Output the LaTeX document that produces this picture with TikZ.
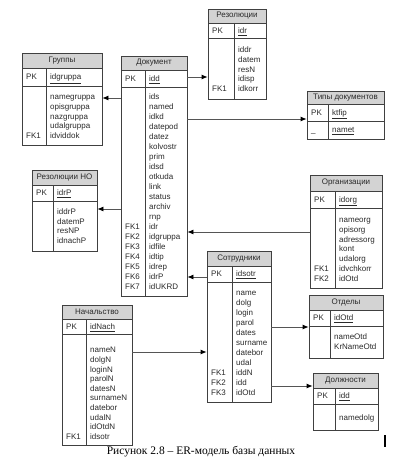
\documentclass[tikz,border=0pt]{standalone}
\usepackage{fontspec}
\setmainfont{Liberation Sans}
\newfontfamily\capfont{Liberation Serif}
\usetikzlibrary{arrows.meta,fit}
\definecolor{hdrgray}{HTML}{D3D3D3}
\definecolor{linegray}{HTML}{404040}
\definecolor{txtgray}{HTML}{2A2A2A}
\definecolor{conngray}{HTML}{555555}
\tikzset{
  tblbox/.style={draw=linegray, line width=0.8pt, inner sep=0pt},
  tblline/.style={draw=linegray, line width=0.8pt},
  hdrfill/.style={fill=hdrgray},
  hdrtext/.style={font=\fontsize{8}{9}\selectfont, text=txtgray, inner sep=0pt},
  fldtext/.style={font=\fontsize{8}{9}\selectfont, text=txtgray, anchor=base west, inner sep=0pt},
  conn/.style={draw=conngray, line width=0.8pt, -{Latex[length=6pt,width=5pt,color=black]}},
}
% name, x1, y1, x2, header bottom, pk bottom, bottom, divider x
\newcommand{\ertbl}[8]{%
  \fill[hdrfill] (#2,#3) rectangle (#4,#5);
  \coordinate (#1-nw) at (#2,#3);
  \coordinate (#1-se) at (#4,#7);
  \node[tblbox, fit=(#1-nw)(#1-se)] (#1) {};
  \draw[tblline] (#2,#5) -- (#4,#5) (#2,#6) -- (#4,#6) (#8,#5) -- (#8,#7);
}
\newcommand{\ertxt}[3]{\node[fldtext] at (#1,{#2+2.8}) {#3};}
\newcommand{\erfields}[4]{%
  \foreach \t [count=\i from 0] in {#4} {\node[fldtext] at (#1,{#2+\i*#3+2.8}) {\t};}
}
\begin{document}
\begin{tikzpicture}[x=1pt,y=-1pt]
\path[use as bounding box, fill=white] (0,0) rectangle (409,460);

% Резолюции
\ertbl{res}{208}{9}{266}{23}{38}{99}{234}
\node[hdrtext] at (237,16) {Резолюции};
\ertxt{212}{30.5}{PK}
\ertxt{238}{30.5}{\underline{idr}}
\erfields{238}{50}{9.6}{iddr,datem,resN,idisp,idkorr}
\ertxt{212}{88.4}{FK1}

% Группы
\ertbl{grp}{22}{53}{102}{68}{86}{145}{46}
\node[hdrtext] at (62,60.5) {Группы};
\ertxt{26}{77}{PK}
\ertxt{50}{77}{\underline{idgruppa}}
\erfields{50}{97}{9.6}{namegruppa,opisgruppa,nazgruppa,udalgruppa,idviddok}
\ertxt{26}{135.4}{FK1}

% Документ
\ertbl{doc}{121}{56}{187}{70}{87}{296}{145}
\node[hdrtext] at (154,63) {Документ};
\ertxt{125}{78.5}{PK}
\ertxt{149}{78.5}{\underline{idd}}
\erfields{149}{97}{10}{ids,named,idkd,datepod,datez,kolvostr,prim,idsd,otkuda,link,status,archiv,rnp,idr,idgruppa,idfile,idtip,idrep,idrP,idUKRD}
\erfields{125}{227}{10}{FK1,FK2,FK3,FK4,FK5,FK6,FK7}

% Типы документов
\ertbl{tip}{307}{91}{384}{104}{121}{139}{328}
\node[hdrtext] at (345.5,97.5) {Типы документов};
\ertxt{311}{112.5}{PK}
\ertxt{332}{112.5}{\underline{ktfip}}
\ertxt{311}{130}{\_}
\ertxt{332}{130}{\underline{namet}}

% Резолюции НО
\ertbl{rno}{32}{170}{97}{185}{201}{251}{53}
\node[hdrtext] at (64.5,177.5) {Резолюции НО};
\ertxt{36}{193}{PK}
\ertxt{57}{193}{\underline{idrP}}
\erfields{57}{212}{9.5}{iddrP,datemP,resNP,idnachP}

% Организации
\ertbl{org}{310}{175}{382}{191}{208}{288}{335}
\node[hdrtext] at (346,183) {Организации};
\ertxt{314}{199.5}{PK}
\ertxt{339}{199.5}{\underline{idorg}}
\erfields{339}{220}{9.7}{nameorg,opisorg,adressorg,kont,udalorg,idvchkorr,idOtd}
\ertxt{314}{268.5}{FK1}
\ertxt{314}{278.2}{FK2}

% Сотрудники
\ertbl{sot}{207}{251}{271}{266}{282}{402}{232}
\node[hdrtext] at (239,258.5) {Сотрудники};
\ertxt{211}{274}{PK}
\ertxt{236}{274}{\underline{idsotr}}
\erfields{236}{293}{10}{name,dolg,login,parol,dates,surname,datebor,udal,iddN,idd,idOtd}
\erfields{211}{373}{10}{FK1,FK2,FK3}

% Начальство
\ertbl{nach}{62}{305}{132}{319}{334}{445}{86}
\node[hdrtext] at (97,312) {Начальство};
\ertxt{66}{326.5}{PK}
\ertxt{90}{326.5}{\underline{idNach}}
\erfields{90}{350}{9.6}{nameN,dolgN,loginN,parolN,datesN,surnameN,datebor,udalN,idOtdN,idsotr}
\ertxt{66}{436.4}{FK1}

% Отделы
\ertbl{otd}{309}{295}{383}{310}{326}{358}{330}
\node[hdrtext] at (346,302.5) {Отделы};
\ertxt{313}{318}{PK}
\ertxt{334}{318}{\underline{idOtd}}
\erfields{334}{337}{10}{nameOtd,KrNameOtd}

% Должности
\ertbl{dol}{313}{373}{378}{388}{404}{430}{335}
\node[hdrtext] at (345.5,380.5) {Должности};
\ertxt{317}{396}{PK}
\ertxt{339}{396}{\underline{idd}}
\ertxt{339}{418}{namedolg}

% connectors
\draw[conn] (doc.east |- 0,77) -- (res.west |- 0,77);
\draw[conn] (doc.east |- 0,119) -- (tip.west |- 0,119);
\draw[conn] (doc.west |- 0,98) -- (grp.east |- 0,98);
\draw[conn] (doc.west |- 0,209) -- (rno.east |- 0,209);
\draw[conn] (org.west |- 0,232) -- (doc.east |- 0,232);
\draw[conn] (sot.west |- 0,277) -- (doc.east |- 0,277);
\draw[conn] (nach.east |- 0,352) -- (sot.west |- 0,352);
\draw[conn] (sot.east |- 0,327) -- (otd.west |- 0,327);
\draw[conn] (sot.east |- 0,386) -- (dol.west |- 0,386);

% caption
\node[font=\capfont\fontsize{11.5}{13}\selectfont, inner sep=0pt] (cap) at (201,452) {Рисунок 2.8 – ER-модель базы данных};
\draw[line width=1.8pt] (385,435) -- (385,447);
\end{tikzpicture}
\end{document}
